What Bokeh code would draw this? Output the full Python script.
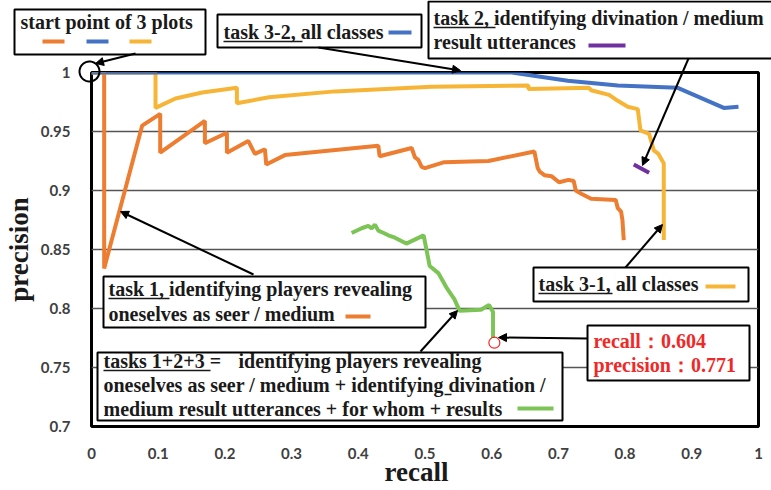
import numpy as np
from bokeh.plotting import figure
from bokeh.layouts import column
from bokeh.models import (Range1d, FixedTicker, BoxAnnotation, Label, Arrow,
                          NormalHead, PolyAnnotation)
from bokeh.embed import file_html
from bokeh.resources import INLINE

# ---------------- data ----------------
x_ticks = [0, 0.1, 0.2, 0.3, 0.4, 0.5, 0.6, 0.7, 0.8, 0.9, 1.0]
x_tick_labels = ["0", "0.1", "0.2", "0.3", "0.4", "0.5", "0.6", "0.7", "0.8", "0.9", "1"]
y_ticks = [0.7, 0.75, 0.8, 0.85, 0.9, 0.95, 1.0]
y_tick_labels = ["0.7", "0.75", "0.8", "0.85", "0.9", "0.95", "1"]

# task 1 (orange)
task1_recall = [0.0, 0.019, 0.019, 0.076, 0.103, 0.103, 0.170, 0.170, 0.203, 0.203,
                0.235, 0.245, 0.260, 0.262, 0.290, 0.430, 0.432, 0.480, 0.485, 0.490,
                0.495, 0.500, 0.529, 0.595, 0.664, 0.669, 0.672, 0.679, 0.690, 0.701,
                0.715, 0.723, 0.726, 0.735, 0.749, 0.786, 0.789, 0.794, 0.796, 0.798]
task1_precision = [1.0, 1.0, 0.834, 0.955, 0.965, 0.932, 0.959, 0.940, 0.949, 0.932,
                   0.942, 0.931, 0.935, 0.922, 0.930, 0.938, 0.929, 0.936, 0.928, 0.926,
                   0.920, 0.919, 0.924, 0.925, 0.933, 0.919, 0.916, 0.913, 0.912, 0.907,
                   0.909, 0.908, 0.900, 0.897, 0.893, 0.892, 0.885, 0.882, 0.875, 0.858]

# task 3-1 (yellow)
task31_recall = [0.0, 0.096, 0.096, 0.126, 0.166, 0.218, 0.218, 0.266, 0.365, 0.510,
                 0.655, 0.655, 0.746, 0.749, 0.776, 0.789, 0.804, 0.819, 0.823, 0.836,
                 0.843, 0.850, 0.858, 0.858]
task31_precision = [1.0, 1.0, 0.970, 0.978, 0.983, 0.987, 0.974, 0.979, 0.984, 0.988,
                    0.989, 0.986, 0.987, 0.985, 0.981, 0.976, 0.971, 0.969, 0.951, 0.948,
                    0.934, 0.931, 0.923, 0.858]

# task 3-2 (blue)
task32_recall = [0.0, 0.63, 0.714, 0.789, 0.879, 0.948, 0.970]
task32_precision = [1.0, 1.0, 0.993, 0.989, 0.987, 0.970, 0.971]

# task 2 (purple)
task2_recall = [0.813, 0.836]
task2_precision = [0.922, 0.915]

# tasks 1+2+3 (green)
all_recall = [0.390, 0.405, 0.415, 0.420, 0.425, 0.430, 0.438, 0.445, 0.455, 0.472,
              0.498, 0.507, 0.520, 0.532, 0.544, 0.552, 0.584, 0.596, 0.602, 0.602]
all_precision = [0.864, 0.868, 0.870, 0.868, 0.871, 0.866, 0.864, 0.862, 0.860, 0.855,
                 0.862, 0.836, 0.830, 0.818, 0.808, 0.798, 0.799, 0.803, 0.797, 0.775]

final_recall = [0.604]
final_precision = [0.771]

ORANGE = "#ED7D31"
BLUE = "#4472C4"
YELLOW = "#F6B537"
GREEN = "#7DC457"
PURPLE = "#7030A0"
RED = "#F02828"

# frame geometry (pixels)
FL, FR, FT, FB = 89, 758, 72, 426
W, H = 771, 490

p = figure(width=W, height=H, output_backend="svg", toolbar_location=None,
           x_range=Range1d(0, 1), y_range=Range1d(0.7, 1.0),
           min_border_left=FL, min_border_right=W - FR,
           min_border_top=FT, min_border_bottom=H - FB)
p.background_fill_color = "white"
p.border_fill_color = "white"
p.outline_line_color = "black"
p.outline_line_width = 3

p.xgrid.visible = False
p.ygrid.ticker = FixedTicker(ticks=y_ticks)
p.ygrid.grid_line_color = "#555555"
p.ygrid.grid_line_width = 1.5

for ax in (p.xaxis[0], p.yaxis[0]):
    ax.axis_line_color = None
    ax.major_tick_line_color = None
    ax.minor_tick_line_color = None
    ax.major_tick_out = 0
    ax.major_tick_in = 0
    ax.minor_tick_out = 0
    ax.minor_tick_in = 0
    ax.major_label_text_font = "Lato"
    ax.major_label_text_font_style = "bold"
    ax.major_label_text_font_size = "15px"
    ax.major_label_text_color = "#404040"
    ax.axis_label_text_font = "Liberation Serif"
    ax.axis_label_text_font_style = "bold"
    ax.axis_label_text_font_size = "27px"
    ax.axis_label_text_color = "#1a1a1a"

p.xaxis.ticker = FixedTicker(ticks=x_ticks)
p.xaxis.major_label_overrides = {t: l for t, l in zip(x_ticks, x_tick_labels)}
p.yaxis.ticker = FixedTicker(ticks=y_ticks)
p.yaxis.major_label_overrides = {t: l for t, l in zip(y_ticks, y_tick_labels)}
p.yaxis.axis_label = "precision"
p.xaxis.major_label_standoff = 21
p.yaxis.major_label_standoff = 21
p.yaxis.axis_label_standoff = 4

LW = 4
p.line(task1_recall, task1_precision, line_color=ORANGE, line_width=LW)
p.line(task31_recall, task31_precision, line_color=YELLOW, line_width=LW)
p.line(all_recall, all_precision, line_color=GREEN, line_width=LW)
p.line(task2_recall, task2_precision, line_color=PURPLE, line_width=LW)
p.line(task32_recall, task32_precision, line_color=BLUE, line_width=LW)
p.scatter(final_recall, final_precision, marker="circle", size=11,
          fill_color=None, line_color=RED, line_width=1.2)

# ---------- transparent overlay for the call-out boxes (pixel coordinates) ----------
ov = figure(width=W, height=H, output_backend="svg", toolbar_location=None,
            x_range=Range1d(0, W), y_range=Range1d(H, 0),
            x_axis_type=None, y_axis_type=None,
            min_border=0, min_border_left=0, min_border_right=0,
            min_border_top=0, min_border_bottom=0)
if "frame_align" in ov.properties():
    ov.frame_align = False
ov.background_fill_color = None
ov.border_fill_color = None
ov.outline_line_color = None
ov.grid.visible = False

FONT = "Liberation Serif"
FS = 20


def box(l, t, r, b):
    ov.add_layout(BoxAnnotation(left=l, right=r, top=t, bottom=b,
                                fill_color="white", fill_alpha=1.0,
                                line_color="black", line_width=2, line_alpha=1.0))


def text(px, py, s, color="#1a1a1a", size=FS, align="left"):
    ov.add_layout(Label(x=px, y=py - 0.35 * size, text=s, text_font=FONT,
                        text_font_style="bold", text_font_size=f"{size}px",
                        text_color=color, text_align=align,
                        text_baseline="alphabetic"))


def seg(x0, y0, x1, y1, color="#1a1a1a", width=1.5):
    ov.add_layout(Arrow(end=None, x_start=x0, y_start=y0, x_end=x1, y_end=y1,
                        line_color=color, line_width=width))


def arrow(x0, y0, x1, y1):
    ov.add_layout(Arrow(end=NormalHead(size=8, fill_color="black", line_color="black"),
                        x_start=x0, y_start=y0, x_end=x1, y_end=y1,
                        line_color="black", line_width=2))


# x axis title
text(416, 481, "recall", size=27, align="center")

# start point box
box(14, 9, 205, 54)
text(20, 28, "start point of 3 plots")
seg(42, 41, 64, 41, ORANGE, 4)
seg(86, 41, 108, 41, BLUE, 4)
seg(129, 41, 151, 41, YELLOW, 4)
arrow(135, 53, 95, 63)
ang = np.linspace(0, 2 * np.pi, 40)
ov.add_layout(PolyAnnotation(xs=list(89 + 10 * np.cos(ang)),
                             ys=list(71 + 10 * np.sin(ang)),
                             fill_color=None, fill_alpha=0, line_color="black",
                             line_alpha=1.0, line_width=2))

# task 3-2 box
box(217, 14, 421, 47)
text(223, 38, "task 3-2, all classes")
seg(223, 41, 302, 41)
seg(388, 32, 411, 32, BLUE, 4)
arrow(318, 47, 460, 70)

# task 2 box
box(428, 1, 790, 58)
text(433, 24, "task 2, identifying divination / medium")
seg(433, 27, 495, 27)
text(433, 48, "result utterances")
seg(588, 45, 625, 45, PURPLE, 4)
arrow(688, 58, 642, 165)

# task 1 box
box(103, 276, 425, 327)
text(108, 295, "task 1, identifying players revealing")
seg(108, 298, 169, 298)
text(108, 320, "oneselves as seer / medium")
seg(345, 316, 370, 316, ORANGE, 4)
arrow(253, 274, 120, 211)

# tasks 1+2+3 box
box(97, 352, 562, 420)
text(103, 367, "tasks 1+2+3 =")
text(238, 367, "identifying players revealing")
seg(103, 370, 210, 370)
text(103, 391, "oneselves as seer / medium + identifying divination /")
seg(444, 394, 451, 394)
text(103, 415, "medium result utterances + for whom + results")
seg(517, 408, 553, 408, GREEN, 4)
arrow(420, 351, 457, 310)

# task 3-1 box
box(533, 267, 748, 301)
text(538, 290, "task 3-1, all classes")
seg(538, 293, 612, 293)
seg(705, 286, 735, 286, YELLOW, 4)
arrow(625, 267, 662, 224)

# red values box
box(587, 325, 749, 380)
text(593, 347, "recall：0.604", RED)
text(593, 371, "precision：0.771", RED)
arrow(587, 338, 498, 337)

inner = column(ov, styles={"position": "absolute", "top": "0px", "left": "0px"})
root = column(p, inner)
open("out.html", "w").write(file_html(root, INLINE))
